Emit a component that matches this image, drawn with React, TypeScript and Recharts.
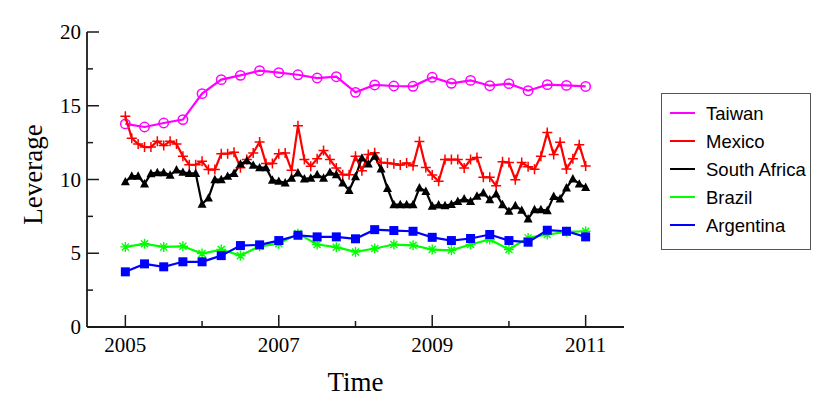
import { LineChart, Line, XAxis, YAxis, Label } from "recharts";

// Leverage by country, 2005-2011. Taiwan, Brazil, Argentina are quarterly; Mexico, South Africa monthly.
const taiwan = [
  13.77, 13.56, 13.83, 14.06, 15.82, 16.77, 17.06, 17.38, 17.24, 17.1, 16.88, 16.97, 15.91,
  16.41, 16.34, 16.32, 16.93, 16.52, 16.72, 16.36, 16.5, 16.02, 16.43, 16.38, 16.31,
];
const mexico = [
  14.28, 12.8, 12.4, 12.2, 12.2, 12.6, 12.3, 12.6, 12.4, 11.57, 11.0, 11.0,
  11.23, 10.67, 10.67, 11.75, 11.75, 11.85, 10.8, 11.35, 11.8, 12.55, 11.08, 11.08,
  11.75, 11.8, 10.62, 13.65, 11.35, 10.9, 11.4, 11.96, 11.35, 10.78, 10.33, 10.33,
  11.57, 10.6, 11.69, 11.82, 11.15, 11.12, 11.06, 10.98, 11.12, 10.93, 12.57, 10.82,
  10.3, 9.88, 11.35, 11.35, 11.35, 10.78, 11.35, 11.5, 10.15, 10.15, 9.57, 11.2,
  11.15, 9.99, 11.15, 10.87, 10.7, 11.57, 13.18, 11.69, 12.53, 10.72, 11.4, 12.36,
  10.92,
];
const southAfrica = [
  9.85, 10.23, 10.23, 9.71, 10.4, 10.47, 10.47, 10.3, 10.65, 10.49, 10.42, 10.42,
  8.33, 8.75, 9.99, 9.99, 10.22, 10.42, 11.05, 11.27, 10.97, 10.8, 10.8, 9.96,
  9.88, 9.77, 10.1, 10.45, 10.04, 10.1, 10.33, 10.1, 10.49, 10.33, 9.77, 9.26,
  10.2, 11.46, 11.06, 11.58, 10.72, 9.4, 8.3, 8.3, 8.3, 8.3, 9.43, 9.2,
  8.2, 8.28, 8.23, 8.32, 8.52, 8.69, 8.52, 8.87, 9.09, 8.64, 9.02, 8.3,
  7.85, 8.23, 7.92, 7.33, 7.96, 7.96, 7.89, 8.86, 8.69, 9.43, 10.04, 9.7,
  9.47,
];
const brazil = [
  5.43, 5.64, 5.43, 5.47, 4.98, 5.25, 4.84, 5.47, 5.64, 6.33, 5.59, 5.41, 5.09,
  5.32, 5.59, 5.54, 5.25, 5.2, 5.59, 5.93, 5.25, 6.04, 6.27, 6.45, 6.49,
];
const argentina = [
  3.74, 4.28, 4.08, 4.42, 4.42, 4.84, 5.52, 5.57, 5.86, 6.22, 6.11, 6.11, 5.98,
  6.6, 6.54, 6.49, 6.08, 5.86, 6.0, 6.27, 5.86, 5.75, 6.56, 6.49, 6.11,
];

const xTicks = [2005, 2006, 2007, 2008, 2009, 2010, 2011];
const xLabels = [2005, 2007, 2009, 2011];
const yTicks = [0, 2.5, 5, 7.5, 10, 12.5, 15, 17.5, 20];
const yLabels = [0, 5, 10, 15, 20];

const legendItems = [
  { name: "Taiwan", color: "#ff00ff" },
  { name: "Mexico", color: "#ff0000" },
  { name: "South Africa", color: "#000000" },
  { name: "Brazil", color: "#00ff00" },
  { name: "Argentina", color: "#0000ff" },
];

const monthly = (vals: number[]) => vals.map((v, i) => ({ t: 2005 + i / 12, v }));
const quarterly = (vals: number[]) => vals.map((v, i) => ({ t: 2005 + i / 4, v }));

const SERIF = "'Liberation Serif', 'Times New Roman', serif";
const SANS = "'Liberation Sans', Arial, sans-serif";
const AXIS = "#1a1a1a";
const MAJOR = 12;
const MINOR = 6;

function LeftTick({ x, y, payload }: any) {
  const major = yLabels.includes(payload.value);
  return (
    <g>
      <line x1={x} x2={x + (major ? MAJOR : MINOR)} y1={y} y2={y} stroke={AXIS} strokeWidth={1.5} />
      {major && (
        <text x={x - 6} y={y + 7} textAnchor="end" fontFamily={SERIF} fontSize={21} fill="#000">
          {payload.value}
        </text>
      )}
    </g>
  );
}

function RightTick({ x, y, payload }: any) {
  const major = yLabels.includes(payload.value);
  return <line x1={x} x2={x - (major ? MAJOR : MINOR)} y1={y} y2={y} stroke={AXIS} strokeWidth={1.5} />;
}

function BottomTick({ x, y, payload }: any) {
  const major = xLabels.includes(payload.value);
  return (
    <g>
      <line x1={x} x2={x} y1={y} y2={y - (major ? MAJOR : MINOR)} stroke={AXIS} strokeWidth={1.5} />
      {major && (
        <text x={x} y={y + 25} textAnchor="middle" fontFamily={SERIF} fontSize={21} fill="#000">
          {payload.value}
        </text>
      )}
    </g>
  );
}

function TopTick({ x, y, payload }: any) {
  const major = xLabels.includes(payload.value);
  return <line x1={x} x2={x} y1={y} y2={y + (major ? MAJOR : MINOR)} stroke={AXIS} strokeWidth={1.5} />;
}

const circleDot = (p: any) => (
  <circle key={`c${p.index}`} cx={p.cx} cy={p.cy} r={4.7} fill="none" stroke="#ff00ff" strokeWidth={1.5} />
);
const plusDot = (p: any) => (
  <path key={`p${p.index}`} d={`M${p.cx - 5},${p.cy}H${p.cx + 5}M${p.cx},${p.cy - 5}V${p.cy + 5}`} stroke="#ff0000" strokeWidth={1.5} />
);
const triangleDot = (p: any) => (
  <path key={`t${p.index}`} d={`M${p.cx},${p.cy - 4.8}L${p.cx + 4.5},${p.cy + 3.6}L${p.cx - 4.5},${p.cy + 3.6}Z`} fill="#000" />
);
const starDot = (p: any) => {
  const r = 5;
  const d = r * 0.707;
  return (
    <path
      key={`s${p.index}`}
      d={`M${p.cx - r},${p.cy}H${p.cx + r}M${p.cx},${p.cy - r}V${p.cy + r}M${p.cx - d},${p.cy - d}L${p.cx + d},${p.cy + d}M${p.cx - d},${p.cy + d}L${p.cx + d},${p.cy - d}`}
      stroke="#00ff00"
      strokeWidth={1.4}
    />
  );
};
const squareDot = (p: any) => (
  <rect key={`q${p.index}`} x={p.cx - 4.5} y={p.cy - 4.5} width={9} height={9} fill="#0000ff" />
);

function ChartLegend() {
  return (
    <div
      style={{
        position: "absolute", left: 661, top: 93, width: 150, height: 157,
        border: "1.5px solid #555", boxSizing: "border-box", background: "#fff",
      }}
    >
      <svg width={150} height={157}>
        {legendItems.map((it, i) => {
          const cy = 19 + i * 28;
          return (
            <g key={it.name}>
              <line x1={8} x2={33} y1={cy} y2={cy} stroke={it.color} strokeWidth={2} />
              <text x={44} y={cy + 6.5} fontFamily={SANS} fontSize={18.5} fill="#000">{it.name}</text>
            </g>
          );
        })}
      </svg>
    </div>
  );
}

export default function App() {
  return (
    <div style={{ position: "relative", width: 830, height: 404, background: "#fff" }}>
      <style>{`body{margin:0}`}</style>
      <LineChart width={830} height={404} margin={{ top: 32, right: 206, bottom: 37, left: 27 }}>
        <XAxis
          dataKey="t" type="number" domain={[2004.5, 2011.5]} ticks={xTicks} interval={0}
          allowDataOverflow height={40} tickSize={0} tickMargin={0} tickLine={false}
          axisLine={{ stroke: AXIS, strokeWidth: 1.8 }} tick={<BottomTick />}
        >
          <Label
            content={({ viewBox }: any) => (
              <text x={viewBox.x + viewBox.width / 2} y={viewBox.y + 64} textAnchor="middle" fontFamily={SERIF} fontSize={27} fill="#000">
                Time
              </text>
            )}
          />
        </XAxis>
        <XAxis
          xAxisId="top" orientation="top" dataKey="t" type="number" domain={[2004.5, 2011.5]}
          ticks={xTicks} interval={0} allowDataOverflow height={0} tickSize={0} tickMargin={0}
          tickLine={false} axisLine={{ stroke: AXIS, strokeWidth: 1.8 }} tick={<TopTick />}
        />
        <YAxis
          type="number" domain={[0, 20]} ticks={yTicks} interval={0} allowDataOverflow width={60}
          tickSize={0} tickMargin={0} tickLine={false} axisLine={{ stroke: AXIS, strokeWidth: 1.8 }}
          tick={<LeftTick />}
        >
          <Label
            content={({ viewBox }: any) => {
              const cx = 33;
              const cy = viewBox.y + viewBox.height / 2 - 5;
              return (
                <text x={cx} y={cy} transform={`rotate(-90 ${cx} ${cy})`} textAnchor="middle" dominantBaseline="central" fontFamily={SERIF} fontSize={27} fill="#000">
                  Leverage
                </text>
              );
            }}
          />
        </YAxis>
        <YAxis
          yAxisId="right" orientation="right" type="number" domain={[0, 20]} ticks={yTicks}
          interval={0} allowDataOverflow width={0} tickSize={0} tickMargin={0} tickLine={false}
          axisLine={{ stroke: AXIS, strokeWidth: 1.8 }} tick={<RightTick />}
        />
        <Line data={quarterly(taiwan)} dataKey="v" stroke="#ff00ff" strokeWidth={2.2} dot={circleDot} activeDot={false} isAnimationActive={false} />
        <Line data={monthly(mexico)} dataKey="v" stroke="#ff0000" strokeWidth={2.2} dot={plusDot} activeDot={false} isAnimationActive={false} />
        <Line data={monthly(southAfrica)} dataKey="v" stroke="#000000" strokeWidth={2.2} dot={triangleDot} activeDot={false} isAnimationActive={false} />
        <Line data={quarterly(brazil)} dataKey="v" stroke="#00ff00" strokeWidth={2.2} dot={starDot} activeDot={false} isAnimationActive={false} />
        <Line data={quarterly(argentina)} dataKey="v" stroke="#0000ff" strokeWidth={2.2} dot={squareDot} activeDot={false} isAnimationActive={false} />
      </LineChart>
      <ChartLegend />
    </div>
  );
}
